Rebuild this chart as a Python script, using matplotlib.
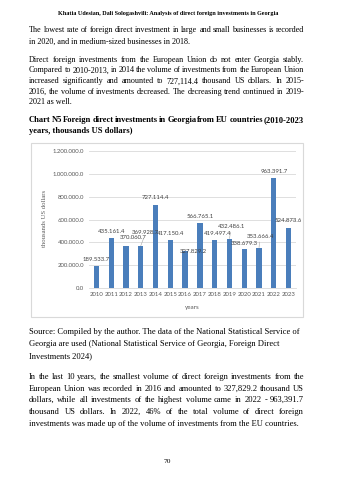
import matplotlib
matplotlib.use('Agg')
import matplotlib.pyplot as plt
from matplotlib.patches import Rectangle

# chart data
years = ['2010', '2011', '2012', '2013', '2014', '2015', '2016',
         '2017', '2018', '2019', '2020', '2021', '2022', '2023']
values = [189533.7, 435161.4, 370060.7, 369928.7, 727114.4, 417150.4, 327829.2,
          566765.1, 419497.4, 432486.1, 338679.3, 353666.4, 963391.7, 524873.6]
yticks = [0, 200000, 400000, 600000, 800000, 1000000, 1200000]

# page text
header = 'Khatia Udesian, Dali Sologashvili: Analysis of direct foreign investments in Georgia'
para1 = ['The lowest rate of foreign direct investment in large and small businesses is recorded',
         'in 2020, and in medium-sized businesses in 2018.']
para2 = ['Direct foreign investments from the European Union do not enter Georgia stably.',
         'Compared to 2010-2013, in 2014 the volume of investments from the European Union',
         'increased significantly and amounted to 727,114.4 thousand US dollars. In 2015-',
         '2016, the volume of investments decreased. The decreasing trend continued in 2019-',
         '2021 as well.']
title = ['Chart N5 Foreign direct investments in Georgia from EU countries (2010-2023',
         'years, thousands US dollars)']
source = ['Source: Compiled by the author. The data of the National Statistical Service of',
          'Georgia are used (National Statistical Service of Georgia, Foreign Direct',
          'Investments 2024)']
para3 = ['In the last 10 years, the smallest volume of direct foreign investments from the',
         'European Union was recorded in 2016 and amounted to 327,829.2 thousand US',
         'dollars, while all investments of the highest volume came in 2022 - 963,391.7',
         'thousand US dollars. In 2022, 46% of the total volume of direct foreign',
         'investments was made up of the volume of investments from the EU countries.']

W, H = 343, 480
SERIF = 'Liberation Serif'
SANS = 'Lato'

fig = plt.figure(figsize=(W / 100, H / 100), dpi=100)
fig.patch.set_facecolor('white')
renderer = fig.canvas.get_renderer()


def put_line(y, s, justify=False, x0=29, x1=304, **kw):
    # y is the pixel row of the text middle, measured from the top
    yb = 1 - (y + 2.4) / H
    if not justify:
        fig.text(x0 / W, yb, s, va='baseline', ha='left', **kw)
        return
    words = s.split(' ')
    texts = [fig.text(0, yb, w, va='baseline', ha='left', **kw) for w in words]
    widths = [t.get_window_extent(renderer).width for t in texts]
    gap = (x1 - x0 - sum(widths)) / (len(words) - 1)
    x = x0
    for t, w in zip(texts, widths):
        t.set_x(x / W)
        x += w + gap


def put_block(ys, lines, justify_last=False, **kw):
    for i, (y, s) in enumerate(zip(ys, lines)):
        last = i == len(lines) - 1
        put_line(y, s, justify=(not last) or justify_last, **kw)


body = dict(family=SERIF, size=5.9, color='black')
body2 = dict(family=SERIF, size=6.15, color='black')

fig.text(168 / W, 1 - 15.5 / H, header, ha='center', va='baseline',
         family=SERIF, size=4.4, weight='bold')
put_block([29.3, 41], para1, **body)
put_block([59.3, 70, 81, 91.5, 101.5], para2, **body)
put_block([119.3, 130.5], title, family=SERIF, size=6.1, weight='bold')
for y, s in zip([331.7, 343.3, 355.5], source):
    put_line(y, s, **body2)
put_block([376.7, 388.2, 399.8, 411.5, 423.5], para3, **body2)
fig.text(167 / W, 1 - 463 / H, '70', ha='center', va='baseline', family=SERIF, size=5.4)

# chart frame
fig.add_artist(Rectangle((31 / W, 1 - 317 / H), (303 - 31) / W, (317 - 143) / H,
                         transform=fig.transFigure, fill=False,
                         edgecolor='#d9d9d9', linewidth=0.8))

ax = fig.add_axes([89 / W, 1 - 288 / H, (296 - 89) / W, (288 - 151) / H])
x = list(range(len(years)))
ax.bar(x, values, width=0.36, color='#4a7ebb', zorder=2)
ax.set_xlim(-0.5, len(years) - 0.5)
ax.set_ylim(0, 1200000)
ax.set_yticks(yticks)
ax.set_yticklabels([('%.1f' % v if v == 0 else '{:,.1f}'.format(v).replace(',', '.'))
                    for v in yticks])
ax.set_xticks(x)
ax.set_xticklabels(years)
ax.yaxis.grid(True, color='#d9d9d9', linewidth=0.6)
ax.set_axisbelow(True)
for side in ['top', 'right', 'left']:
    ax.spines[side].set_visible(False)
ax.spines['bottom'].set_color('#d9d9d9')
ax.spines['bottom'].set_linewidth(0.6)
ax.tick_params(axis='both', length=0, labelsize=4.3, labelcolor='#595959')
ax.tick_params(axis='y', pad=3.6)
ax.tick_params(axis='x', pad=3.2)
for lab in ax.get_xticklabels() + ax.get_yticklabels():
    lab.set_family(SANS)

# data labels, offsets in pixels (dx, dy) from top of bar
label_offsets = [(0, 7), (0, 7), (7, 8), (5, 13), (0, 7), (0, 7), (8, -1),
                 (0, 7), (3, 7), (2, 12.6), (0, 6), (1, 11.6), (0, 7), (0, 8)]
leaders = {'2013', '2019', '2021'}
for xi, v, yr, (dx, dy) in zip(x, values, years, label_offsets):
    txt = '{:,.1f}'.format(v).replace(',', '.')
    arrow = None
    if yr in leaders:
        arrow = dict(arrowstyle='-', color='#a6a6a6', lw=0.4, shrinkA=0.5, shrinkB=0)
    ax.annotate(txt, xy=(xi, v), xytext=(dx, dy), textcoords='offset pixels',
                ha='center', va='center', fontsize=4.3, family=SANS,
                color='#404040', arrowprops=arrow, annotation_clip=False)

fig.text(192 / W, 1 - 307 / H, 'years', ha='center', va='center',
         family=SANS, size=4.5, color='#595959')
fig.text(45 / W, 1 - 218 / H, 'thousands US dollars', ha='center', va='center',
         rotation=90, family=SERIF, size=4.8, color='#595959')

fig.savefig('out.png', dpi=100, facecolor='white')
